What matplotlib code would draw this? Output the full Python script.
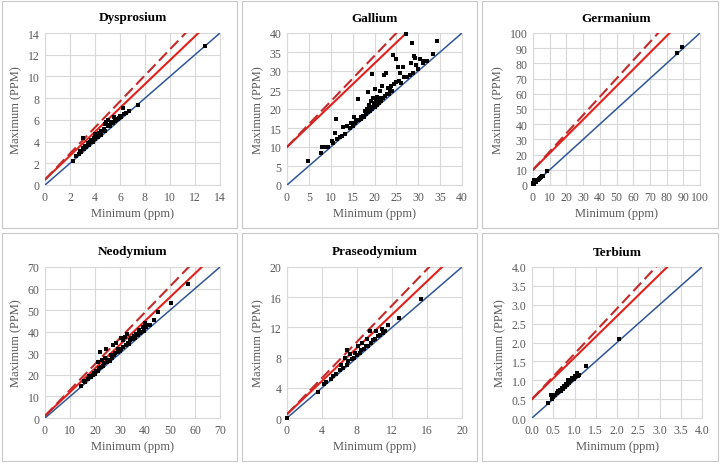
import matplotlib
matplotlib.use("Agg")
import matplotlib.pyplot as plt
from matplotlib.patches import Rectangle
from matplotlib.ticker import FormatStrFormatter

# --- data (minimum vs maximum, ppm) ---
dy_min = [2.2, 2.5, 2.7, 2.8, 2.9, 3.0, 3.0, 3.1, 3.2, 3.3, 3.4, 3.5, 3.6, 3.7, 3.8, 3.9,
          4.0, 4.0, 4.1, 4.2, 4.3, 4.4, 4.5, 4.5, 4.6, 4.7, 4.8, 4.8, 4.9, 5.0, 5.0, 5.1,
          5.2, 5.3, 5.4, 5.5, 5.6, 5.7, 5.8, 5.9, 6.0, 6.1, 6.2, 6.3, 6.5, 6.7, 7.4, 12.8]
dy_max = [2.25, 2.7, 2.9, 3.1, 3.0, 3.4, 4.3, 3.3, 3.6, 3.5, 3.9, 3.7, 4.0, 4.1, 4.0, 4.3,
          4.2, 4.7, 4.5, 4.4, 4.8, 4.7, 5.0, 4.6, 5.0, 5.2, 5.6, 5.0, 5.8, 5.4, 6.0, 5.5,
          5.4, 5.8, 5.7, 6.3, 5.9, 6.0, 6.1, 6.2, 6.4, 6.3, 7.1, 6.5, 6.6, 6.8, 7.4, 12.8]

ga_min = [4.9, 7.8, 8.0, 8.5, 9.0, 9.3, 10.2, 10.6, 11.0, 11.1, 11.5, 12.0, 12.5, 12.9,
          13.3, 13.8, 14.3, 14.6, 15.0, 15.2, 15.5, 15.8, 16.0, 16.2, 16.4, 16.8, 17.0,
          17.3, 17.6, 17.9, 18.1, 18.3, 18.4, 18.6, 18.8, 19.0, 19.1, 19.3, 19.4, 19.5,
          19.7, 19.9, 20.0, 20.1, 20.3, 20.5, 20.6, 20.8, 21.0, 21.2, 21.3, 21.5, 21.7,
          21.9, 22.1, 22.3, 22.6, 22.8, 23.0, 23.3, 23.5, 23.8, 24.0, 24.3, 24.5, 24.8,
          25.0, 25.4, 25.6, 25.8, 26.0, 26.4, 26.8, 27.1, 27.5, 28.0, 28.3, 28.5, 28.8,
          29.0, 29.2, 29.5, 30.0, 30.4, 31.0, 31.2, 32.0, 33.3, 34.2]
ga_max = [6.2, 8.4, 10.1, 10.0, 10.1, 10.0, 11.5, 11.0, 13.7, 17.5, 12.0, 12.6, 13.0, 15.2,
          13.5, 15.5, 15.0, 16.3, 15.5, 17.8, 16.2, 16.8, 17.2, 22.6, 17.0, 17.8, 17.5,
          18.2, 18.0, 19.5, 18.8, 20.0, 24.4, 19.2, 21.0, 19.5, 20.4, 22.0, 29.2, 20.0,
          23.0, 21.5, 20.5, 25.3, 22.5, 21.0, 23.2, 22.0, 21.5, 24.8, 22.8, 22.0, 26.0,
          23.0, 29.0, 23.5, 29.6, 24.0, 25.5, 24.0, 25.0, 26.0, 24.8, 34.2, 26.5, 27.0,
          33.2, 31.0, 27.5, 29.6, 26.8, 31.0, 28.5, 39.7, 28.3, 29.0, 32.0, 37.5, 29.5,
          34.0, 33.3, 31.5, 30.5, 33.2, 32.0, 32.7, 32.7, 34.5, 37.9]

ge_min = [0.1, 0.2, 0.3, 0.4, 0.5, 0.6, 0.8, 1.0, 1.2, 1.4, 1.6, 1.8, 2.0, 2.3, 2.6,
          3.0, 3.4, 3.8, 4.2, 4.6, 5.0, 5.5, 6.0, 8.5, 86.0, 89.0]
ge_max = [0.5, 1.5, 0.8, 2.5, 1.2, 3.0, 1.5, 2.0, 1.8, 2.6, 2.2, 3.0, 2.6, 3.4, 3.0,
          3.5, 4.0, 4.2, 4.6, 5.0, 5.3, 5.8, 6.2, 9.0, 87.0, 90.5]

nd_min = [14.3, 15.5, 16.0, 17.0, 17.5, 18.3, 19.0, 19.5, 20.0, 20.5, 21.0, 21.0, 21.5,
          22.0, 22.3, 22.8, 23.0, 23.5, 24.0, 24.5, 24.8, 25.3, 25.8, 26.2, 26.8, 27.2,
          27.5, 28.0, 28.5, 29.0, 29.3, 29.8, 30.2, 30.5, 31.0, 31.3, 31.8, 32.2, 32.6,
          33.0, 33.5, 34.0, 34.5, 35.0, 35.5, 36.0, 36.5, 37.0, 37.5, 38.0, 38.5, 39.0,
          39.5, 40.0, 40.5, 41.0, 42.0, 43.5, 45.2, 50.2, 57.0]
nd_max = [15.0, 17.0, 16.5, 18.0, 19.5, 19.0, 20.0, 21.0, 20.6, 22.0, 26.0, 21.8, 23.0,
          30.5, 23.5, 27.0, 24.0, 25.5, 28.0, 32.0, 26.0, 27.0, 26.5, 29.0, 28.0, 34.0,
          29.0, 30.0, 35.0, 30.5, 32.0, 31.0, 37.0, 32.0, 36.0, 33.0, 37.5, 34.0, 39.0,
          35.0, 34.5, 36.0, 37.0, 36.5, 38.0, 37.0, 39.0, 38.5, 41.0, 39.5, 40.0, 42.0,
          40.5, 44.0, 42.0, 43.0, 43.0, 45.5, 49.0, 53.5, 62.0]

pr_min = [0.0, 3.5, 4.2, 4.5, 5.0, 5.3, 5.6, 6.0, 6.2, 6.4, 6.6, 6.8, 6.9, 7.0, 7.2, 7.4,
          7.6, 7.8, 8.0, 8.1, 8.3, 8.5, 8.6, 8.8, 9.0, 9.1, 9.3, 9.5, 9.6, 9.8, 10.0,
          10.2, 10.4, 10.6, 10.8, 11.0, 11.2, 11.5, 12.8, 15.3]
pr_max = [0.0, 3.5, 4.5, 4.8, 5.2, 5.6, 5.8, 6.3, 7.0, 6.6, 8.0, 7.0, 9.0, 7.6, 8.5, 7.8,
          8.0, 8.6, 8.4, 9.5, 8.6, 9.0, 10.0, 9.2, 9.5, 10.5, 9.6, 11.5, 10.0, 10.3, 10.5,
          11.5, 10.8, 11.0, 11.8, 11.3, 11.5, 12.3, 13.3, 15.8]

tb_min = [0.38, 0.45, 0.48, 0.5, 0.52, 0.55, 0.58, 0.6, 0.62, 0.65, 0.68, 0.7, 0.72, 0.75,
          0.78, 0.8, 0.82, 0.85, 0.88, 0.9, 0.92, 0.95, 0.98, 1.0, 1.02, 1.05, 1.08, 1.1,
          1.28, 2.05]
tb_max = [0.4, 0.6, 0.5, 0.55, 0.62, 0.6, 0.65, 0.72, 0.68, 0.75, 0.72, 0.8, 0.78, 0.85,
          0.82, 0.9, 0.88, 1.0, 0.92, 0.98, 1.0, 1.05, 1.02, 1.1, 1.08, 1.18, 1.12, 1.15,
          1.38, 2.1]

names = ["Dysprosium", "Gallium", "Germanium", "Neodymium", "Praseodymium", "Terbium"]
axis_max = [14, 40, 100, 70, 20, 4.0]
tick_step = [2, 5, 10, 10, 4, 0.5]
intercepts = [0.5, 10, 10, 1, 0.5, 0.5]
slope_solid = 1.1
slope_dashed = 1.2

RED = "#e3211c"
RED_DARK = "#c42a2a"
BLUE = "#2f5597"
GRID = "#d9d9d9"
TEXT = "#595959"

plt.rcParams["font.family"] = ["Liberation Serif", "DejaVu Serif"]

# axes boxes in pixels: (left, top, right, bottom)
boxes = [(45, 34, 220, 186), (287, 34, 462, 186), (533, 34, 700, 186),
         (45, 268, 220, 419), (287, 268, 462, 419), (532, 268, 702, 419)]
panels = [(2, 2, 237, 229), (242, 2, 477, 229), (482, 2, 718, 229),
          (2, 234, 237, 462), (242, 234, 477, 462), (482, 234, 718, 462)]

W, H = 720, 464


def draw_panel(fig, i, xs, ys):
    l, t, r, b = boxes[i]
    ax = fig.add_axes([l / W, 1 - b / H, (r - l) / W, (b - t) / H])
    top = axis_max[i]
    step = tick_step[i]
    ticks = [k * step for k in range(int(round(top / step)) + 1)]

    line_x = [0, top]
    ax.plot(line_x, line_x, color=BLUE, lw=1.1, zorder=3)
    ax.plot(line_x, [intercepts[i] + slope_solid * v for v in line_x],
            color=RED, lw=1.5, zorder=3)
    ax.plot(line_x, [intercepts[i] + slope_dashed * v for v in line_x],
            color=RED_DARK, lw=1.5, dashes=(5.5, 2.4), zorder=3)
    ax.scatter(xs, ys, marker="s", s=11, color="black", linewidths=0, zorder=4,
               clip_on=False)

    ax.set_xlim(0, top)
    ax.set_ylim(0, top)
    ax.set_xticks(ticks)
    ax.set_yticks(ticks)
    if step < 1:
        ax.xaxis.set_major_formatter(FormatStrFormatter("%.1f"))
        ax.yaxis.set_major_formatter(FormatStrFormatter("%.1f"))
    ax.tick_params(length=0, labelsize=8.5, labelcolor=TEXT, pad=4)
    ax.grid(True, color=GRID, lw=0.8)
    ax.set_axisbelow(True)
    for sp in ax.spines.values():
        sp.set_color(GRID)
        sp.set_linewidth(0.8)

    ax.set_title(names[i], fontsize=9.5, fontweight="bold", pad=9)
    ax.set_xlabel("Minimum (ppm)", fontsize=9, color=TEXT, labelpad=3)
    ax.set_ylabel("Maximum (PPM)", fontsize=9, color=TEXT, labelpad=4)

    pl, pt, pr, pb = panels[i]
    fig.patches.append(Rectangle((pl / W, 1 - pb / H), (pr - pl) / W, (pb - pt) / H,
                                 transform=fig.transFigure, fill=False,
                                 edgecolor="#c8c8c8", lw=0.8))


def main() -> None:
    fig = plt.figure(figsize=(7.2, 4.64), dpi=100)
    data = [(dy_min, dy_max), (ga_min, ga_max), (ge_min, ge_max),
            (nd_min, nd_max), (pr_min, pr_max), (tb_min, tb_max)]
    for i, (xs, ys) in enumerate(data):
        draw_panel(fig, i, xs, ys)
    fig.savefig("out.png", dpi=100, facecolor="white")
    plt.close(fig)


if __name__ == "__main__":
    main()
